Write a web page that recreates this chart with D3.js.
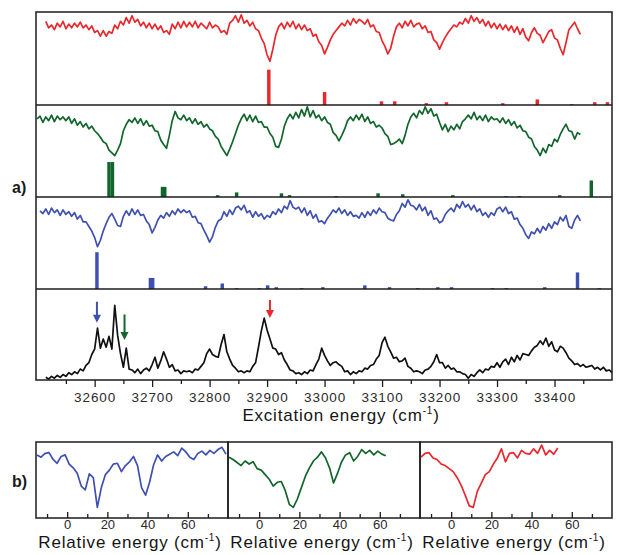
<!DOCTYPE html>
<html>
<head>
<meta charset="utf-8">
<script src="https://cdn.jsdelivr.net/npm/d3@7"></script>
<style>
  body { margin: 0; background: #fff; }
  svg { display: block; font-family: "Liberation Sans", Arial, sans-serif; }
</style>
</head>
<body>
<svg id="chart" width="619" height="555"></svg>
<script>
// ---------- data ----------
const energyTicks = [32600, 32700, 32800, 32900, 33000, 33100, 33200, 33300, 33400];
const energyMinorTicks = [32550, 32650, 32750, 32850, 32950, 33050, 33150, 33250, 33350, 33450];
const traceStep = 5; // cm-1 between samples

// IR-UV hole burning traces (depletion, arb. units 0-100 per strip)
const redStart = 32515;
const redTrace = [
  90, 83, 86, 81, 88, 84, 90, 82, 87, 83,
  88, 84, 89, 83, 86, 81, 85, 78, 80, 74,
  80, 74, 79, 77, 86, 82, 90, 86, 94, 88,
  96, 89, 92, 85, 89, 83, 88, 82, 87, 81,
  85, 78, 80, 76, 87, 82, 89, 83, 90, 84,
  89, 84, 90, 83, 88, 85, 82, 89, 83, 86,
  84, 78, 80, 76, 88, 91, 96, 89, 97, 88,
  91, 85, 89, 82, 80, 72, 66, 54, 47, 60,
  75, 84, 88, 82, 89, 84, 90, 82, 87, 81,
  86, 80, 82, 74, 76, 68, 64, 55, 62, 70,
  76, 80, 84, 88, 85, 91, 86, 93, 88, 92,
  90, 87, 92, 84, 86, 79, 78, 69, 63, 55,
  61, 74, 84, 88, 83, 90, 85, 91, 84, 87,
  88, 82, 85, 78, 79, 70, 67, 60, 67, 73,
  78, 82, 86, 84, 89, 87, 93, 88, 96, 90,
  94, 88, 92, 85, 90, 83, 88, 82, 87, 81,
  86, 80, 85, 78, 84, 76, 82, 73, 69, 78,
  83, 77, 75, 67, 73, 79, 81, 72, 70, 61,
  54, 67, 81, 85, 89, 82, 76
];
const greenStart = 32500;
const greenTrace = [
  85, 88, 81, 87, 83, 89, 82, 88, 84, 87,
  83, 87, 80, 85, 78, 82, 76, 80, 74, 77,
  72, 69, 65, 60, 58, 51, 48, 45, 51, 58,
  72, 79, 84, 81, 86, 80, 85, 78, 83, 77,
  78, 72, 71, 62, 57, 53, 67, 83, 93, 86,
  84, 89, 83, 86, 80, 85, 79, 82, 76, 79,
  74, 72, 66, 63, 55, 50, 45, 52, 60, 69,
  78, 85, 90, 83, 89, 82, 88, 81, 82, 76,
  76, 69, 65, 55, 54, 63, 77, 85, 90, 85,
  92, 86, 95, 88, 98, 87, 94, 86, 89, 83,
  87, 81, 79, 70, 67, 61, 67, 74, 83, 87,
  83, 89, 84, 90, 82, 87, 80, 82, 76, 78,
  75, 69, 66, 57, 58, 60, 63, 58, 67, 79,
  87, 91, 86, 94, 90, 98, 91, 96, 88, 90,
  81, 73, 79, 71, 77, 73, 79, 74, 82, 85,
  89, 85, 92, 84, 88, 83, 89, 82, 87, 84,
  85, 81, 86, 80, 84, 78, 82, 75, 78, 72,
  71, 65, 63, 55, 51, 45, 53, 48, 57, 55,
  63, 60, 68, 74, 79, 72, 71, 63, 70, 68
];
const blueStart = 32505;
const blueTrace = [
  85, 82, 87, 81, 88, 83, 86, 80, 86, 81,
  84, 79, 83, 76, 80, 73, 73, 68, 63, 56,
  46, 53, 63, 71, 78, 82, 76, 69, 68, 79,
  85, 80, 87, 81, 86, 80, 81, 74, 70, 61,
  67, 75, 80, 77, 83, 79, 85, 81, 87, 83,
  86, 83, 85, 78, 79, 72, 71, 64, 58, 51,
  57, 67, 74, 76, 84, 79, 86, 81, 88, 90,
  86, 91, 83, 85, 78, 84, 79, 82, 76, 80,
  78, 84, 81, 87, 83, 90, 87, 96, 89, 87,
  89, 83, 88, 80, 85, 77, 81, 73, 74, 71,
  77, 81, 86, 83, 88, 82, 86, 80, 84, 79,
  80, 77, 83, 78, 84, 80, 86, 82, 88, 84,
  83, 77, 75, 74, 81, 85, 93, 89, 97, 91,
  90, 86, 92, 85, 89, 80, 85, 76, 77, 72,
  74, 81, 85, 88, 84, 92, 88, 95, 89, 92,
  86, 91, 84, 87, 80, 83, 78, 83, 80, 87,
  89, 84, 89, 82, 84, 76, 77, 70, 66, 59,
  55, 62, 60, 66, 61, 68, 64, 71, 66, 73,
  70, 78, 74, 80, 68, 66, 75, 80, 74
];
// R2PI excitation spectrum
const blackStart = 32515;
const blackTrace = [
  3, 1, 4, 2, 5, 3, 6, 4, 8, 6,
  9, 7, 12, 10, 16, 19, 28, 34, 57, 35,
  45, 36, 48, 34, 82, 49, 29, 14, 35, 12,
  11, 8, 12, 7, 11, 13, 10, 17, 25, 13,
  21, 31, 23, 14, 17, 10, 11, 7, 10, 9,
  10, 8, 12, 11, 15, 19, 29, 34, 28, 26,
  25, 39, 50, 31, 23, 16, 13, 9, 10, 8,
  10, 9, 15, 19, 36, 54, 68, 55, 45, 35,
  34, 28, 30, 22, 17, 11, 10, 7, 8, 6,
  9, 7, 11, 10, 17, 23, 35, 27, 21, 16,
  19, 20, 17, 15, 9, 10, 6, 9, 7, 10,
  9, 13, 12, 16, 17, 23, 27, 41, 47, 37,
  31, 24, 25, 20, 21, 24, 15, 13, 9, 10,
  9, 7, 11, 12, 15, 20, 28, 19, 19, 13,
  16, 12, 13, 9, 9, 7, 6, 2, 6, 4,
  8, 11, 8, 12, 11, 15, 14, 19, 14, 20,
  23, 17, 25, 20, 27, 22, 29, 28, 27, 32,
  36, 38, 43, 39, 46, 37, 42, 33, 31, 37,
  35, 30, 24, 21, 17, 18, 15, 17, 14, 15,
  16, 12, 14, 11, 14, 10, 11, 8
];

// calculated stick spectra
const redStickE = [32903, 33000, 33099, 33122, 33177, 33212, 33310, 33370, 33430, 33470, 33492];
const redStickI = [38, 14, 4, 4, 2, 3, 2, 6, 1, 3, 3];
const greenStickE = [32625, 32631, 32718, 32722, 32814, 32847, 32925, 32939, 33020, 33093, 33136, 33223, 33316, 33339, 33409, 33464];
const greenStickI = [38, 38, 11, 11, 2, 5, 4, 2, 1, 4, 3, 2, 1, 1, 2, 18];
const blueStickE = [32604, 32697, 32701, 32793, 32822, 32847, 32887, 32901, 32916, 32960, 32997, 33070, 33113, 33162, 33197, 33221, 33292, 33316, 33383, 33440, 33478];
const blueStickI = [40, 12, 12, 3, 6, 1, 1, 4, 2, 1, 2, 4, 2, 1, 2, 2, 1, 1, 2, 18, 1];

// arrows over the excitation spectrum
const arrowE = [32604, 32652, 32905];
const arrowTop = [86, 72, 88];
const arrowTip = [63, 44, 68];

// panel b: relative energy traces
const relStart = -15;
const relStep = 2;
const relTicks = [0, 20, 40, 60];
const relMinorTicks = [-10, 10, 30, 50, 70];
const blueRel = [
  83, 80, 85, 86, 77, 72, 81, 83, 71, 66, 59, 42, 37, 58, 53, 14,
  40, 57, 63, 71, 72, 61, 69, 74, 81, 69, 40, 30, 47, 70, 83, 75,
  81, 84, 87, 82, 92, 87, 80, 77, 85, 88, 83, 89, 85, 90, 93, 84
];
const greenRel = [
  80, 77, 73, 69, 75, 71, 74, 65, 63, 57, 51, 42, 47, 48, 36, 18,
  14, 25, 40, 55, 66, 75, 80, 87, 79, 66, 46, 59, 74, 83, 86, 75,
  81, 90, 85, 89, 83, 88, 84, 82
];
const redRel = [
  80, 85, 86, 79, 77, 71, 69, 65, 61, 53, 43, 30, 16, 14, 35, 46,
  57, 61, 71, 79, 91, 74, 85, 86, 79, 89, 85, 84, 91, 85, 96, 83,
  89, 84, 92
];

// ---------- drawing ----------
const colRed = "#e8282c", colGreen = "#12652c", colBlue = "#3f51b0", colBlack = "#111";
const frameColor = "#1c1c1c";
const svg = d3.select("#chart");

const frameA = {left: 36, right: 612};
const rows = [12, 105, 197, 289, 380];

const x = d3.scaleLinear().domain([32498, 33500]).range([frameA.left, frameA.right]);

const strips = [
  {trace: redTrace, start: redStart, stickE: redStickE, stickI: redStickI, color: colRed},
  {trace: greenTrace, start: greenStart, stickE: greenStickE, stickI: greenStickI, color: colGreen},
  {trace: blueTrace, start: blueStart, stickE: blueStickE, stickI: blueStickI, color: colBlue},
  {trace: blackTrace, start: blackStart, color: colBlack}
];

const lineA = d3.line();

strips.forEach((s, i) => {
  const y = d3.scaleLinear().domain([0, 100]).range([rows[i + 1], rows[i]]);
  s.y = y;
  if (s.stickE) {
    svg.append("g").selectAll("rect")
      .data(s.stickE.map((e, k) => ({e: e, v: s.stickI[k]})))
      .join("rect")
        .attr("x", d => x(d.e - 3))
        .attr("width", d => x(d.e + 3) - x(d.e - 3))
        .attr("y", d => y(d.v))
        .attr("height", d => y(0) - y(d.v))
        .attr("fill", s.color);
  }
  const pts = s.trace.map((v, k) => [x(s.start + k * traceStep), y(v)]);
  svg.append("path")
    .attr("d", lineA(pts))
    .attr("fill", "none")
    .attr("stroke", s.color)
    .attr("stroke-width", 1.7)
    .attr("stroke-linejoin", "round");
});

// arrows
const arrowColors = [colBlue, colGreen, colRed];
const yBlack = strips[3].y;
arrowE.forEach((e, k) => {
  const ax = x(e), y0 = yBlack(arrowTop[k]), y1 = yBlack(arrowTip[k]);
  svg.append("line")
    .attr("x1", ax).attr("x2", ax)
    .attr("y1", y0).attr("y2", y1 - 6)
    .attr("stroke", arrowColors[k]).attr("stroke-width", 2);
  svg.append("path")
    .attr("d", `M${ax - 4},${y1 - 8} L${ax + 4},${y1 - 8} L${ax},${y1} Z`)
    .attr("fill", arrowColors[k]);
});

// frame of panel a
svg.append("rect")
  .attr("x", frameA.left).attr("y", rows[0])
  .attr("width", frameA.right - frameA.left).attr("height", rows[4] - rows[0])
  .attr("fill", "none").attr("stroke", frameColor).attr("stroke-width", 1.5);
rows.slice(1, 4).forEach(r => {
  svg.append("line")
    .attr("x1", frameA.left).attr("x2", frameA.right)
    .attr("y1", r).attr("y2", r)
    .attr("stroke", frameColor).attr("stroke-width", 1.5);
});

// energy axis
svg.append("g")
  .attr("transform", `translate(0,${rows[4]})`)
  .call(d3.axisBottom(x).tickValues(energyMinorTicks).tickSize(4).tickFormat(""))
  .call(g => g.select(".domain").remove())
  .call(g => g.selectAll("line").attr("stroke", frameColor).attr("stroke-width", 1.3));
svg.append("g")
  .attr("transform", `translate(0,${rows[4]})`)
  .call(d3.axisBottom(x).tickValues(energyTicks).tickSize(7).tickPadding(5).tickFormat(d3.format("d")))
  .call(g => g.select(".domain").remove())
  .call(g => g.selectAll("line").attr("stroke", frameColor).attr("stroke-width", 1.3))
  .attr("font-family", "Liberation Sans, Arial, sans-serif")
  .attr("font-size", 13.5)
  .call(g => g.selectAll("text").attr("fill", "#2a2a2a").attr("letter-spacing", 0.9));

const titleA = svg.append("text")
  .attr("x", 341).attr("y", 421)
  .attr("text-anchor", "middle")
  .attr("font-size", 17).attr("letter-spacing", 0.8)
  .attr("fill", "#151515");
titleA.append("tspan").text("Excitation energy (cm");
titleA.append("tspan").attr("dy", -7).attr("font-size", 10).text("-1");
titleA.append("tspan").attr("dy", 7).text(")");

svg.append("text").attr("x", 12).attr("y", 193)
  .attr("font-size", 16).attr("font-weight", "bold").attr("fill", "#1a1a1a").text("a)");

// ---------- panel b ----------
const boxEdges = [36, 228, 420, 612];
const boxTop = 442, boxBottom = 518;
const relTraces = [blueRel, greenRel, redRel];
const relColors = [colBlue, colGreen, colRed];
const yRel = d3.scaleLinear().domain([0, 100]).range([boxBottom, boxTop]);

relTraces.forEach((tr, i) => {
  const xr = d3.scaleLinear().domain([-15.5, 80]).range([boxEdges[i], boxEdges[i + 1]]);
  const pts = tr.map((v, k) => [xr(relStart + k * relStep), yRel(v)]);
  svg.append("path")
    .attr("d", lineA(pts))
    .attr("fill", "none")
    .attr("stroke", relColors[i])
    .attr("stroke-width", 1.7)
    .attr("stroke-linejoin", "round");

  svg.append("g")
    .attr("transform", `translate(0,${boxBottom})`)
    .call(d3.axisBottom(xr).tickValues(relMinorTicks).tickSizeInner(-4).tickSizeOuter(0).tickFormat(""))
    .call(g => g.select(".domain").remove())
    .call(g => g.selectAll("line").attr("stroke", frameColor).attr("stroke-width", 1.3));
  svg.append("g")
    .attr("transform", `translate(0,${boxBottom})`)
    .call(d3.axisBottom(xr).tickValues(relTicks).tickSizeInner(-6).tickSizeOuter(0).tickPadding(2))
    .call(g => g.select(".domain").remove())
    .call(g => g.selectAll("line").attr("stroke", frameColor).attr("stroke-width", 1.3))
    .attr("font-family", "Liberation Sans, Arial, sans-serif")
    .attr("font-size", 13)
    .call(g => g.selectAll("text").attr("fill", "#2a2a2a"));

  svg.append("rect")
    .attr("x", boxEdges[i]).attr("y", boxTop)
    .attr("width", boxEdges[i + 1] - boxEdges[i]).attr("height", boxBottom - boxTop)
    .attr("fill", "none").attr("stroke", frameColor).attr("stroke-width", 1.5);

  const t = svg.append("text")
    .attr("x", (boxEdges[i] + boxEdges[i + 1]) / 2 - 2).attr("y", 548)
    .attr("text-anchor", "middle")
    .attr("font-size", 17).attr("letter-spacing", 0.8)
    .attr("fill", "#151515");
  t.append("tspan").text("Relative energy (cm");
  t.append("tspan").attr("dy", -7).attr("font-size", 10).text("-1");
  t.append("tspan").attr("dy", 7).text(")");
});

svg.append("text").attr("x", 12).attr("y", 487)
  .attr("font-size", 16).attr("font-weight", "bold").attr("fill", "#1a1a1a").text("b)");
</script>
</body>
</html>
